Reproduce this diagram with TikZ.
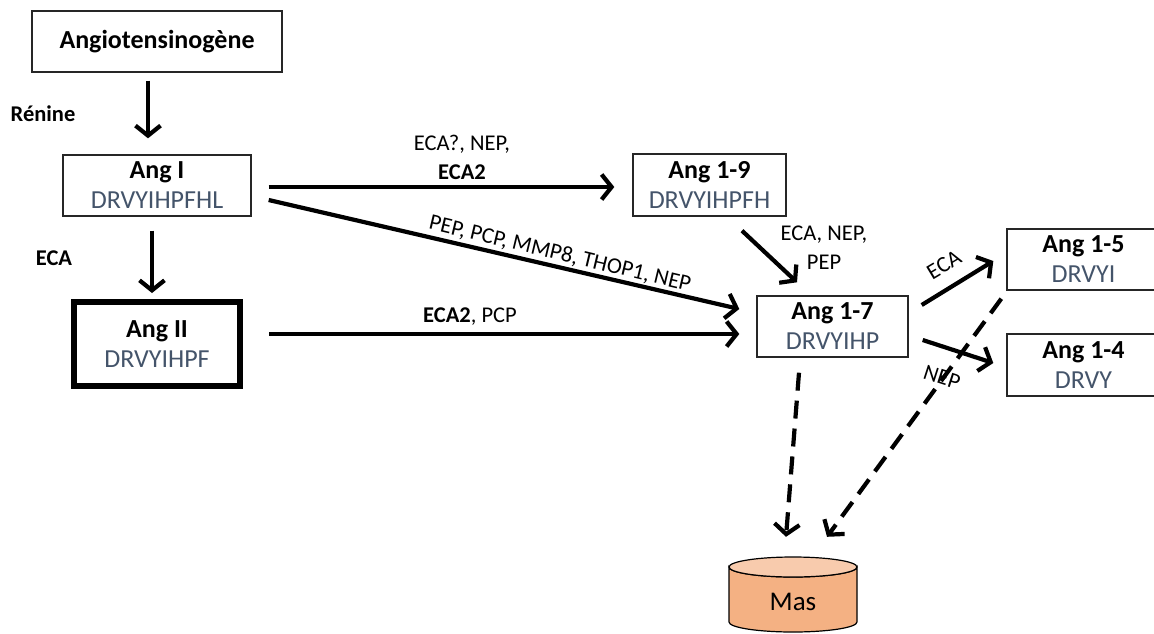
\documentclass[tikz,border=0pt]{standalone}
\usepackage{fontspec}
\setmainfont{Carlito}
\usetikzlibrary{arrows.meta,calc}
\definecolor{seq}{HTML}{44546A}
\definecolor{masbody}{HTML}{F4B183}
\definecolor{mastop}{HTML}{F8CBAD}
\tikzset{
 box/.style={draw=black!85, line width=1.4pt, inner sep=0pt, align=center, font=\fontsize{26}{30}\selectfont},
 conn/.style={line width=4.2pt, -{Straight Barb[length=10pt,width=25pt]}},
 dconn/.style={conn, dash pattern=on 18pt off 10pt},
 lab/.style={font=\fontsize{22.5}{29}\selectfont, inner sep=0pt, align=center},
}
\newcommand{\seqt}[1]{\textcolor{seq}{#1}}
\begin{document}
\begin{tikzpicture}[x=1pt,y=-1pt]
\useasboundingbox (0,0) rectangle (1154,633);
% boxes
\node[box, minimum width=250, minimum height=61] (angio) at (157,41.5) {\textbf{Angiotensinogène}};
\node[box, minimum width=188, minimum height=61] (angI) at (157,185.5) {\textbf{Ang I}\\\seqt{DRVYIHPFHL}};
\node[box, draw=black, line width=6pt, minimum width=166, minimum height=84] (angII) at (157,344) {\textbf{Ang II}\\\seqt{DRVYIHPF}};
\node[box, minimum width=153, minimum height=62] (ang19) at (709.5,185) {\textbf{Ang 1-9}\\\seqt{DRVYIHPFH}};
\node[box, minimum width=151, minimum height=61] (ang17) at (832.5,326.5) {\textbf{Ang 1-7}\\\seqt{DRVYIHP}};
\node[box, minimum width=153, minimum height=61] (ang15) at (1083.5,259.5) {\textbf{Ang 1-5}\\\seqt{DRVYI}};
\node[box, minimum width=153, minimum height=62] (ang14) at (1083.5,365) {\textbf{Ang 1-4}\\\seqt{DRVY}};
% Mas cylinder
\filldraw[fill=masbody, draw=black, line width=1.2pt] (729,567) -- (729,622)
  arc[start angle=180, end angle=0, x radius=64, y radius=10] -- (857,567)
  arc[start angle=0, end angle=180, x radius=64, y radius=10] -- cycle;
\filldraw[fill=mastop, draw=black, line width=1.2pt] (793,567) ellipse[x radius=64, y radius=10];
\node[inner sep=0pt, minimum width=128, minimum height=90, font=\fontsize{27}{30}\selectfont] (mas) at (793,602) {Mas};
% connectors
\draw[conn] ($(angio.south)+(-9,8)$) -- ($(angI.north)+(-9,-16)$);
\draw[conn] ($(angI.south)+(-5,14)$) -- ($(angII.north)+(-5,-6)$);
\draw[conn] ($(angI.east)+(17,1.5)$) -- ($(ang19.west)+(-18,2)$);
\draw[conn] ($(angI.east)+(17,14.5)$) -- ($(ang17.west)+(-17,-17.5)$);
\draw[conn] ($(angII.east)+(26,-10)$) -- ($(ang17.west)+(-17,7.5)$);
\draw[conn] ($(ang19.south)+(32.5,14)$) -- ($(ang17.north)+(-35.5,-13)$);
\draw[conn] ($(ang17.east)+(13,-21.5)$) -- ($(ang15.west)+(-13,1.5)$);
\draw[conn] ($(ang17.east)+(14,13.5)$) -- ($(ang14.west)+(-13,-2)$);
\draw[dconn] ($(ang17.south)+(-33.5,15)$) -- ($(mas.north)+(-7,-20)$);
\draw[dconn] ($(ang15.south west)+(-5,8)$) -- ($(mas.north)+(34,-20)$);
% labels
\node[lab] (lrenine) at (43,114) {\textbf{Rénine}};
\node[lab] (leca) at (54,258) {\textbf{ECA}};
\node[lab] (l19) at (462,157.5) {ECA?, NEP,\\\textbf{ECA2}};
\node[lab, rotate=-13.5] (ldiag) at (560,254) {PEP, PCP, MMP8, THOP1, NEP};
\node[lab] (l2) at (470,317) {\textbf{ECA2}, PCP};
\node[lab] (l97) at (824,247.5) {ECA, NEP,\\PEP};
\node[lab, rotate=31] (l15) at (944,265) {ECA};
\node[lab, rotate=-18] (l14) at (942,377) {NEP};
\end{tikzpicture}
\end{document}
